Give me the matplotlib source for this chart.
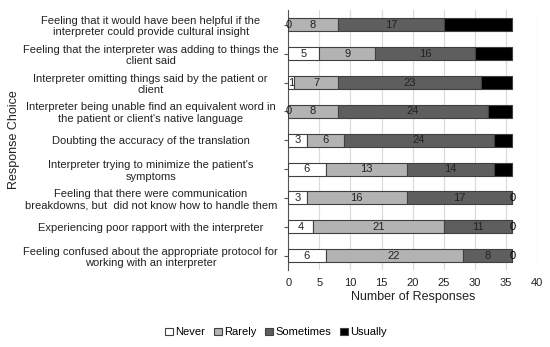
import matplotlib
matplotlib.use("Agg")
import matplotlib.pyplot as plt
import numpy as np

plt.rcParams['font.family'] = ['Liberation Sans', 'DejaVu Sans']

categories = [
    "Feeling that it would have been helpful if the\ninterpreter could provide cultural insight",
    "Feeling that the interpreter was adding to things the\nclient said",
    "Interpreter omitting things said by the patient or\nclient",
    "Interpreter being unable find an equivalent word in\nthe patient or client's native language",
    "Doubting the accuracy of the translation",
    "Interpreter trying to minimize the patient's\nsymptoms",
    "Feeling that there were communication\nbreakdowns, but  did not know how to handle them",
    "Experiencing poor rapport with the interpreter",
    "Feeling confused about the appropriate protocol for\nworking with an interpreter",
]
never = [0, 5, 1, 0, 3, 6, 3, 4, 6]
rarely = [8, 9, 7, 8, 6, 13, 16, 21, 22]
sometimes = [17, 16, 23, 24, 24, 14, 17, 11, 8]
usually = [11, 6, 5, 4, 3, 3, 0, 0, 0]
series_names = ["Never", "Rarely", "Sometimes", "Usually"]
colors = ["#ffffff", "#b3b3b3", "#5e5e5e", "#000000"]
label_colors = ["#222222", "#222222", "#222222", "#000000"]

fig = plt.figure(figsize=(5.5, 3.47), dpi=100)
ax = fig.add_axes([0.524, 0.222, 0.453, 0.748])

y = np.arange(len(categories))
left = np.zeros(len(categories))
for vals, name, c, lc in zip([never, rarely, sometimes, usually], series_names, colors, label_colors):
    vals = np.array(vals, dtype=float)
    ax.barh(y, vals, left=left, height=0.45, color=c, edgecolor="#404040",
            linewidth=0.8, label=name, zorder=3)
    for i, (v, l) in enumerate(zip(vals, left)):
        if name == "Usually" and v > 0:
            continue
        ax.text(l + v / 2, y[i], f"{int(v)}", ha="center", va="center",
                fontsize=8, color=lc, zorder=4)
    left += vals

ax.set_ylim(len(categories) - 0.5, -0.5)
ax.set_xlim(0, 40)
ax.set_xticks(range(0, 41, 5))
ax.set_yticks(y)
ax.set_yticklabels(categories, fontsize=8, ha="center", color="#222222")
ax.tick_params(axis='y', length=3, pad=96, color="#555555")
ax.tick_params(axis='x', length=0, labelsize=8, labelcolor="#222222", pad=6)
ax.grid(axis='x', color="#d9d9d9", linewidth=0.8, zorder=0)
for s in ["top", "right", "bottom"]:
    ax.spines[s].set_visible(False)
ax.spines["left"].set_color("#555555")
ax.set_xlabel("Number of Responses", fontsize=9, color="#222222", labelpad=2)
fig.text(0.025, 0.597, "Response Choice", rotation=90, ha="center", va="center",
         fontsize=9, color="#222222")

handles, labels = ax.get_legend_handles_labels()
fig.legend(handles, labels, loc="center", bbox_to_anchor=(0.502, 0.042), ncol=4,
           frameon=False, fontsize=8, handlelength=0.7, handleheight=0.7,
           handletextpad=0.2, columnspacing=0.8)

fig.savefig("out.png", dpi=100)
